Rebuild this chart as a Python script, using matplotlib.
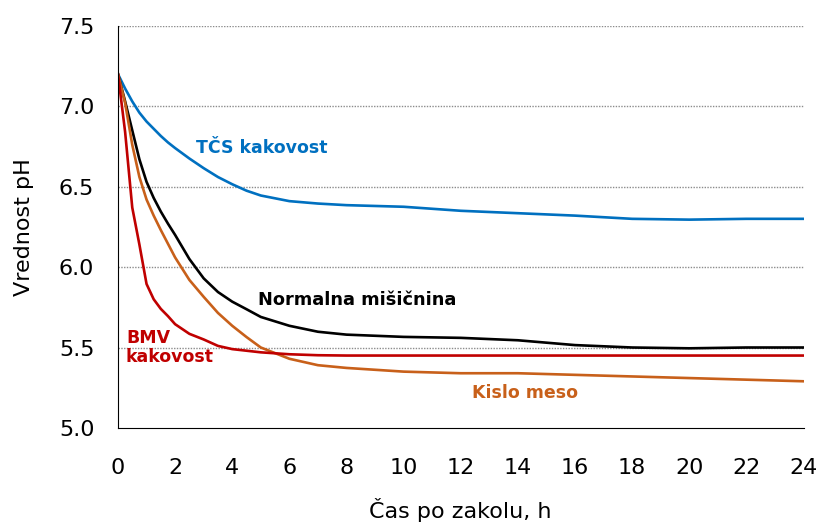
import matplotlib.pyplot as plt

hours = [0, 0.25, 0.5, 0.75, 1, 1.25, 1.5, 1.75, 2, 2.5, 3, 3.5, 4, 4.5, 5,
         6, 7, 8, 10, 12, 14, 16, 18, 20, 22, 24]

tcs = [7.2, 7.11, 7.03, 6.96, 6.905, 6.86, 6.815, 6.775, 6.74, 6.675, 6.615,
       6.56, 6.515, 6.475, 6.445, 6.41, 6.395, 6.385, 6.375, 6.35, 6.335,
       6.32, 6.30, 6.295, 6.30, 6.30]
normal = [7.2, 7.03, 6.85, 6.67, 6.53, 6.43, 6.345, 6.27, 6.2, 6.05, 5.93,
          5.845, 5.785, 5.738, 5.69, 5.635, 5.598, 5.58, 5.566, 5.56, 5.545,
          5.515, 5.50, 5.495, 5.50, 5.50]
bmv = [7.2, 6.84, 6.37, 6.14, 5.895, 5.80, 5.74, 5.695, 5.645, 5.585, 5.55,
       5.51, 5.49, 5.48, 5.47, 5.458, 5.452, 5.45, 5.45, 5.45, 5.45, 5.45,
       5.45, 5.45, 5.45, 5.45]
kislo = [7.2, 7.02, 6.76, 6.56, 6.42, 6.32, 6.23, 6.145, 6.06, 5.92, 5.815,
         5.715, 5.635, 5.565, 5.50, 5.43, 5.39, 5.373, 5.35, 5.34, 5.34,
         5.33, 5.32, 5.31, 5.30, 5.29]

x_ticks = list(range(0, 25, 2))
y_ticks = [5.0, 5.5, 6.0, 6.5, 7.0, 7.5]

blue = '#0070C0'
red = '#C00000'
orange = '#C8601A'

fig = plt.figure(figsize=(8.21, 5.27), dpi=100)
ax = fig.add_axes([0.1437, 0.188, 0.835, 0.763])

ax.plot(hours, tcs, color=blue, lw=1.9)
ax.plot(hours, normal, color='black', lw=1.9)
ax.plot(hours, kislo, color=orange, lw=1.9)
ax.plot(hours, bmv, color=red, lw=1.9)

ax.set_xlim(0, 24)
ax.set_ylim(5.0, 7.5)
ax.set_xticks(x_ticks)
ax.set_yticks(y_ticks)
ax.set_yticklabels([f"{v:.1f}" for v in y_ticks])
ax.tick_params(length=0, labelsize=16)
ax.tick_params(axis='y', pad=17)
ax.tick_params(axis='x', pad=22)

for v in y_ticks[1:]:
    ax.axhline(v, color='#8c8c8c', lw=1.0, ls=(0, (1, 1)), zorder=0)

ax.spines['top'].set_visible(False)
ax.spines['right'].set_visible(False)

ax.set_xlabel("Čas po zakolu, h", fontsize=16, labelpad=14)
ax.set_ylabel("Vrednost pH", fontsize=16, labelpad=18)

ax.text(5.04, 6.74, "TČS kakovost", color=blue, fontsize=12.5,
        fontweight='bold', ha='center', va='center')
ax.text(4.9, 5.796, "Normalna mišičnina", color='black', fontsize=12.8,
        fontweight='bold', ha='left', va='center')
ax.text(0.28, 5.5, "BMV\nkakovost", color=red, fontsize=12.5,
        fontweight='bold', ha='left', va='center', linespacing=1.1)
ax.text(14.24, 5.218, "Kislo meso", color=orange, fontsize=12.5,
        fontweight='bold', ha='center', va='center')

fig.savefig("out.png", dpi=100)
